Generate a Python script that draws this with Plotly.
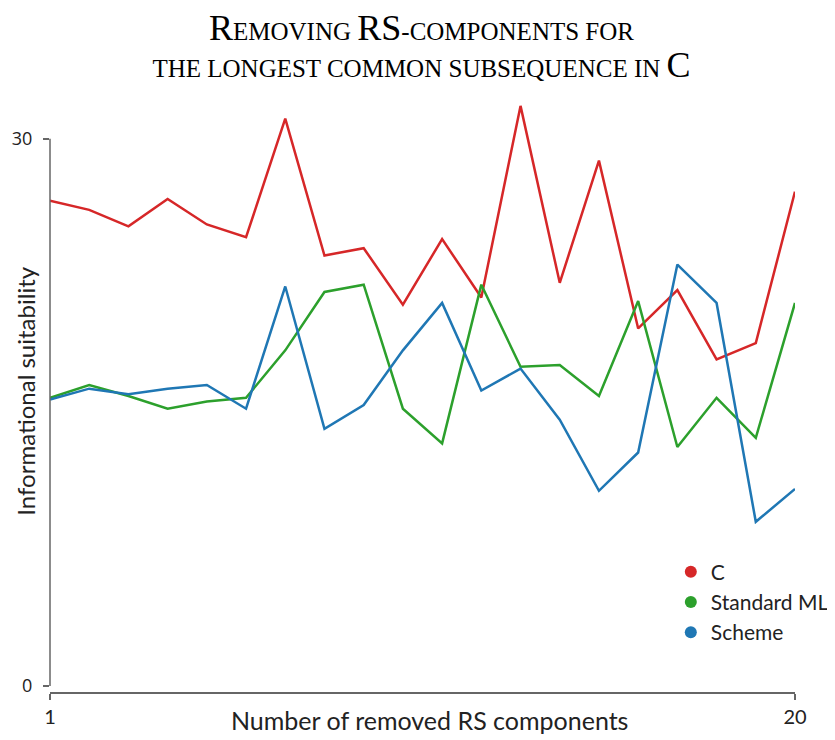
import plotly.graph_objects as go

# removed RS components (x) and informational suitability per language
removed = list(range(1, 21))
c_vals = [26.6, 26.1, 25.2, 26.7, 25.3, 24.6, 31.1, 23.6, 24.0, 20.9,
          24.5, 21.3, 31.8, 22.1, 28.8, 19.6, 21.7, 17.9, 18.8, 27.1]
sml_vals = [15.8, 16.5, 15.9, 15.2, 15.6, 15.8, 18.4, 21.6, 22.0, 15.2,
            13.3, 22.0, 17.5, 17.6, 15.9, 21.1, 13.1, 15.8, 13.6, 21.0]
scheme_vals = [15.7, 16.3, 16.0, 16.3, 16.5, 15.2, 21.9, 14.1, 15.4, 18.4,
               21.0, 16.2, 17.4, 14.6, 10.7, 12.8, 23.1, 21.0, 9.0, 10.8]

series_names = ["C", "Standard ML", "Scheme"]
series_colors = ["#d62728", "#2ca02c", "#1f77b4"]
x_ticks = [1, 20]
y_ticks = [0, 30]

# the page body has an 8px margin, so the plot is placed 8px left/up of the target
W, H = 835, 732
Y_MAX = 33          # headroom so the peaks above 30 are not clipped
D0 = 12 / 614       # y domain start (x axis sits a few px below zero)

BIG = "<span style='font-size:36px'>"
SM = "<span style='font-size:25px'>"
title_txt = (BIG + "R</span>" + SM + "EMOVING </span>" + BIG + "RS</span>"
             + SM + "-COMPONENTS FOR</span><br>"
             + SM + "THE LONGEST COMMON SUBSEQUENCE IN </span>" + BIG + "C</span>")

fig = go.Figure()

for name, vals, col in zip(series_names, [c_vals, sml_vals, scheme_vals], series_colors):
    fig.add_trace(go.Scatter(x=removed, y=vals, mode="lines", name=name,
                             line=dict(color=col, width=2.5), showlegend=False))
    # legend entry with round dot
    fig.add_trace(go.Scatter(x=[None], y=[None], mode="markers", name=name,
                             marker=dict(color=col, size=10)))

fig.update_layout(
    width=W, height=H,
    paper_bgcolor="white", plot_bgcolor="white",
    margin=dict(l=42, r=48, t=76, b=42, autoexpand=False),
    title=dict(text=title_txt, x=0.4952, xanchor="center", y=0.956, yanchor="top",
               font=dict(family="Liberation Serif", size=28.5, color="black")),
    legend=dict(x=0.8333, y=0.2386, xanchor="left", yanchor="top",
                font=dict(family="Lato", size=21, color="#222"),
                itemsizing="constant", tracegroupgap=0, bgcolor="rgba(0,0,0,0)"),
    showlegend=True,
)

fig.update_yaxes(range=[0, Y_MAX], domain=[D0, 1], tickvals=y_ticks,
                 showgrid=False, zeroline=False, showline=False,
                 ticks="outside", ticklen=6, tickcolor="#666", tickwidth=1.5,
                 ticklabelstandoff=7,
                 tickfont=dict(family="Open Sans", size=18, color="#222"))
fig.update_xaxes(range=[1, 20], anchor="free", position=5 / 614, tickvals=x_ticks,
                 showgrid=False, zeroline=False, showline=True,
                 linecolor="#666", linewidth=1.5, ticks="outside", ticklen=6,
                 tickcolor="#666", tickwidth=1.5,
                 tickfont=dict(family="Lato", size=20, color="#222"))

# y axis line only from 0 to 30
fig.add_shape(type="line", xref="paper", yref="paper", x0=0, x1=0,
              y0=D0, y1=D0 + 30 / Y_MAX * (1 - D0),
              line=dict(color="#666", width=1.5))

fig.add_annotation(text="Number of removed RS components", xref="paper", yref="paper",
                   x=0.51, y=-0.0358, xanchor="center", yanchor="middle", showarrow=False,
                   font=dict(family="Lato", size=25, color="#222"))
fig.add_annotation(text="Informational suitability", xref="paper", yref="paper",
                   x=-0.034, y=0.5, xanchor="center", yanchor="middle", showarrow=False,
                   textangle=-90, font=dict(family="Lato", size=24, color="#222"))

fig.write_html("out.html")
